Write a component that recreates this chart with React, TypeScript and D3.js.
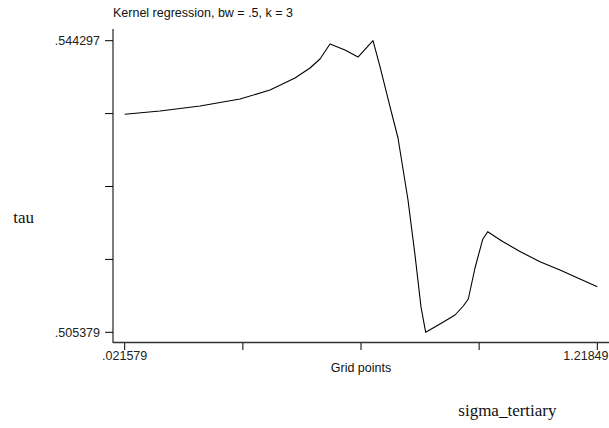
import React, { useEffect, useRef } from "react";
import * as d3 from "d3";

// grid points (x) and smoothed tau (y)
const gridX = [
  0.021579, 0.11098, 0.21229, 0.31359, 0.38957, 0.45288, 0.49087, 0.5162,
  0.54152, 0.57951, 0.61244, 0.65042, 0.66815, 0.69348, 0.71374, 0.73907,
  0.75679, 0.77199, 0.78389, 0.82011, 0.8581, 0.87912, 0.89178, 0.90875,
  0.92825, 0.94091, 0.97966, 1.02272, 1.07337, 1.12402, 1.17467, 1.21849,
];
const tauY = [
  0.534473, 0.534914, 0.535581, 0.536515, 0.537716, 0.539318, 0.540652,
  0.541854, 0.543856, 0.543055, 0.542121, 0.544297, 0.540826, 0.535488,
  0.53131, 0.523036, 0.515695, 0.508756, 0.505379, 0.506487, 0.507688,
  0.508889, 0.509823, 0.51396, 0.517791, 0.518805, 0.51747, 0.516163,
  0.514801, 0.513694, 0.512492, 0.511465,
];
const xTickLabels = [".021579", "", "", "", "1.21849"];
const yTickLabels = [".505379", "", "", "", ".544297"];
const title = "Kernel regression, bw = .5, k = 3";

const App = () => {
  const ref = useRef<SVGSVGElement | null>(null);

  useEffect(() => {
    const svg = d3.select(ref.current);
    svg.selectAll("*").remove();

    const xMin = gridX[0];
    const xMax = gridX[gridX.length - 1];
    const yMin = d3.min(tauY) as number;
    const yMax = d3.max(tauY) as number;

    const x = d3.scaleLinear().domain([xMin, xMax]).range([124.7, 597.3]);
    const y = d3.scaleLinear().domain([yMin, yMax]).range([332.3, 40.7]);

    const sans = "'Liberation Sans', Arial, sans-serif";
    const serif = "'Liberation Serif', 'Times New Roman', serif";
    const axisColor = "#333";

    // y axis
    svg
      .append("line")
      .attr("x1", 113)
      .attr("x2", 113)
      .attr("y1", 29)
      .attr("y2", 343)
      .attr("stroke", axisColor)
      .attr("stroke-width", 1.3);
    const yTicks = d3.range(5).map((i) => yMin + ((yMax - yMin) * i) / 4);
    yTicks.forEach((v, i) => {
      svg
        .append("line")
        .attr("x1", 105)
        .attr("x2", 113)
        .attr("y1", y(v))
        .attr("y2", y(v))
        .attr("stroke", "#000")
        .attr("stroke-width", 1);
      if (yTickLabels[i])
        svg
          .append("text")
          .attr("x", 100)
          .attr("y", y(v) + 4.5)
          .attr("text-anchor", "end")
          .attr("font-family", sans)
          .attr("font-size", 12.5)
          .attr("fill", "#222")
          .text(yTickLabels[i]);
    });

    // x axis
    svg
      .append("line")
      .attr("x1", 113)
      .attr("x2", 609)
      .attr("y1", 342.5)
      .attr("y2", 342.5)
      .attr("stroke", axisColor)
      .attr("stroke-width", 1.3);
    const xTicks = d3.range(5).map((i) => xMin + ((xMax - xMin) * i) / 4);
    xTicks.forEach((v, i) => {
      svg
        .append("line")
        .attr("x1", x(v))
        .attr("x2", x(v))
        .attr("y1", 343)
        .attr("y2", 350)
        .attr("stroke", "#000")
        .attr("stroke-width", 1);
      if (xTickLabels[i]) {
        const last = i === xTicks.length - 1;
        svg
          .append("text")
          .attr("x", last ? 608.5 : x(v))
          .attr("y", 360)
          .attr("text-anchor", last ? "end" : "middle")
          .attr("font-family", sans)
          .attr("font-size", 12.5)
          .attr("fill", "#222")
          .text(xTickLabels[i]);
      }
    });

    // curve
    const line = d3
      .line<number>()
      .x((_, i) => x(gridX[i]))
      .y((d) => y(d));
    svg
      .append("path")
      .datum(tauY)
      .attr("fill", "none")
      .attr("stroke", "#000")
      .attr("stroke-width", 1.1)
      .attr("stroke-linejoin", "round")
      .attr("d", line);

    // titles
    svg
      .append("text")
      .attr("x", 113)
      .attr("y", 17.3)
      .attr("font-family", sans)
      .attr("font-size", 12.5)
      .attr("fill", "#111")
      .text(title);
    svg
      .append("text")
      .attr("x", 361)
      .attr("y", 372)
      .attr("text-anchor", "middle")
      .attr("font-family", sans)
      .attr("font-size", 12.5)
      .attr("fill", "#111")
      .text("Grid points");
    svg
      .append("text")
      .attr("x", 13.3)
      .attr("y", 223.3)
      .attr("font-family", serif)
      .attr("font-size", 17)
      .attr("fill", "#111")
      .text("tau");
    svg
      .append("text")
      .attr("x", 458.3)
      .attr("y", 415.5)
      .attr("font-family", serif)
      .attr("font-size", 17)
      .attr("fill", "#111")
      .text("sigma_tertiary");
  }, []);

  return (
    <svg
      ref={ref}
      width="609"
      height="428"
      style={{ position: "absolute", left: 0, top: 0, background: "#fff" }}
    ></svg>
  );
};

export default App;
